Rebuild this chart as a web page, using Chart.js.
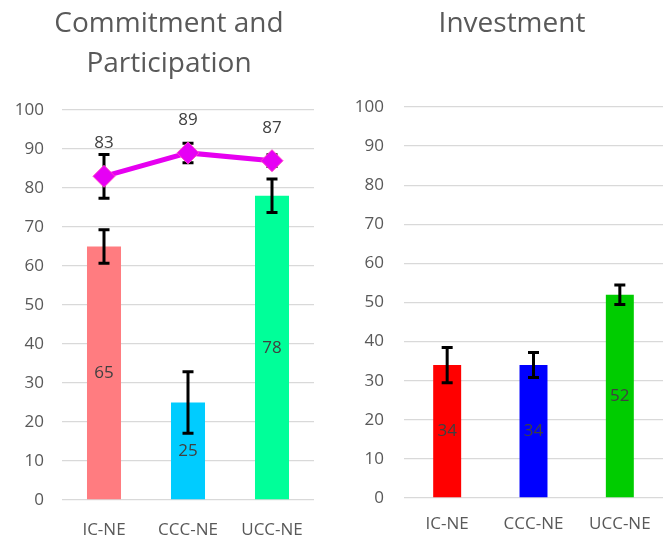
<!DOCTYPE html>
<html>
<head>
<meta charset="utf-8">
<script src="https://cdn.jsdelivr.net/npm/chart.js@4/dist/chart.umd.min.js"></script>
<style>
html,body{margin:0;padding:0;background:#fff;}
#wrap{position:relative;width:672px;height:535px;overflow:hidden;}
canvas{position:absolute;top:0;}
#c1{left:0;}
#c2{left:340px;}
</style>
</head>
<body>
<div id="wrap">
<canvas id="c1" width="340" height="535"></canvas>
<canvas id="c2" width="332" height="535"></canvas>
</div>
<script>
// ---- data ----
const categories = ['IC-NE', 'CCC-NE', 'UCC-NE'];
const yTicks = [0, 10, 20, 30, 40, 50, 60, 70, 80, 90, 100];

const commitmentBars = [65, 25, 78];
const commitmentBarsErr = [4.3, 7.9, 4.3];
const participationLine = [83, 89, 87];
const participationLineErr = [5.6, 2.5, 1.5];

const investmentBars = [34, 34, 52];
const investmentBarsErr = [4.5, 3.2, 2.5];

const title1 = ['Commitment and', 'Participation'];
const title2 = ['Investment'];

// ---- styles ----
const FONT = "'Open Sans', 'Liberation Sans', sans-serif";
const TXT = '#595959';
const LBL = '#404040';

// error bar + data label + title plugin
const extras = {
  id: 'extras',
  beforeDatasetDraw(chart, args) {
    const ds = chart.data.datasets[args.index];
    if (ds.type === 'line') drawErr(chart, args.index);
  },
  afterDatasetDraw(chart, args) {
    const ds = chart.data.datasets[args.index];
    if (ds.type !== 'line') drawErr(chart, args.index);
  },
  afterDatasetsDraw(chart) {
    const ctx = chart.ctx;
    const y = chart.scales.y;
    chart.data.datasets.forEach((ds, i) => {
      const meta = chart.getDatasetMeta(i);
      ctx.save();
      ctx.font = '17px ' + FONT;
      ctx.fillStyle = LBL;
      ctx.textAlign = 'center';
      ctx.textBaseline = 'middle';
      meta.data.forEach((el, j) => {
        const v = ds.data[j];
        let ty;
        if (ds.type === 'line') ty = el.y - 33;
        else ty = (y.getPixelForValue(v) + y.getPixelForValue(0)) / 2;
        ctx.fillText(String(v), el.x, ty);
      });
      ctx.restore();
    });
  },
  afterDraw(chart, args, opts) {
    const ctx = chart.ctx;
    ctx.save();
    ctx.font = '28px ' + FONT;
    ctx.fillStyle = TXT;
    ctx.textAlign = 'center';
    ctx.textBaseline = 'middle';
    opts.lines.forEach((t, k) => ctx.fillText(t, opts.cx, 24 + k * 40));
    ctx.restore();
  }
};
function drawErr(chart, i) {
  const ds = chart.data.datasets[i];
  if (!ds.errors) return;
  const meta = chart.getDatasetMeta(i);
  const y = chart.scales.y;
  const ctx = chart.ctx;
  ctx.save();
  ctx.strokeStyle = '#000';
  ctx.lineWidth = 3;
  ctx.lineCap = 'butt';
  meta.data.forEach((el, j) => {
    const v = ds.data[j], e = ds.errors[j];
    const t = y.getPixelForValue(v + e), b = y.getPixelForValue(v - e);
    const x = el.x;
    ctx.beginPath();
    ctx.moveTo(x, t); ctx.lineTo(x, b);
    ctx.moveTo(x - 5.5, t); ctx.lineTo(x + 5.5, t);
    ctx.moveTo(x - 5.5, b); ctx.lineTo(x + 5.5, b);
    ctx.stroke();
  });
  ctx.restore();
}

function makeOptions(titleLines, titleCx, top, yW, yPad, xH, xPad, padRight) {
  return {
    responsive: false,
    animation: false,
    events: [],
    layout: { padding: { left: 0, right: padRight, top: top, bottom: 0 } },
    plugins: {
      legend: { display: false },
      tooltip: { enabled: false },
      title: { display: false },
      extras: { lines: titleLines, cx: titleCx }
    },
    scales: {
      x: {
        type: 'category',
        grid: { display: false },
        border: { display: false },
        ticks: { color: TXT, font: { family: FONT, size: 17 }, padding: xPad },
        afterFit(s) { s.height = xH; }
      },
      y: {
        min: 0, max: 100,
        afterBuildTicks(s) { s.ticks = yTicks.map(v => ({ value: v })); },
        grid: { color: '#d9d9d9', lineWidth: 1.3, drawTicks: false },
        border: { display: false },
        ticks: { color: TXT, font: { family: FONT, size: 17 }, padding: yPad },
        afterFit(s) { s.width = yW; }
      }
    }
  };
}

new Chart(document.getElementById('c1'), {
  type: 'bar',
  data: {
    labels: categories,
    datasets: [
      {
        type: 'line',
        data: participationLine,
        errors: participationLineErr,
        borderColor: '#E600F0',
        borderWidth: 5,
        backgroundColor: '#E600F5',
        pointStyle: 'rectRot',
        pointRadius: 11,
        pointBackgroundColor: '#E600F5',
        pointBorderColor: '#FF40C8',
        pointBorderWidth: 1,
        order: 0
      },
      {
        type: 'bar',
        data: commitmentBars,
        errors: commitmentBarsErr,
        backgroundColor: ['#FF7C80', '#00CCFF', '#00FF99'],
        categoryPercentage: 1,
        barPercentage: 0.405,
        order: 1
      }
    ]
  },
  options: makeOptions(title1, 169, 110, 62, 18, 35, 12, 26),
  plugins: [extras]
});

new Chart(document.getElementById('c2'), {
  type: 'bar',
  data: {
    labels: categories,
    datasets: [
      {
        type: 'bar',
        data: investmentBars,
        errors: investmentBarsErr,
        backgroundColor: ['#FF0000', '#0000FF', '#00CC00'],
        categoryPercentage: 1,
        barPercentage: 0.324
      }
    ]
  },
  options: makeOptions(title2, 172, 107, 64, 20, 37, 8, 9),
  plugins: [extras]
});
</script>
</body>
</html>
